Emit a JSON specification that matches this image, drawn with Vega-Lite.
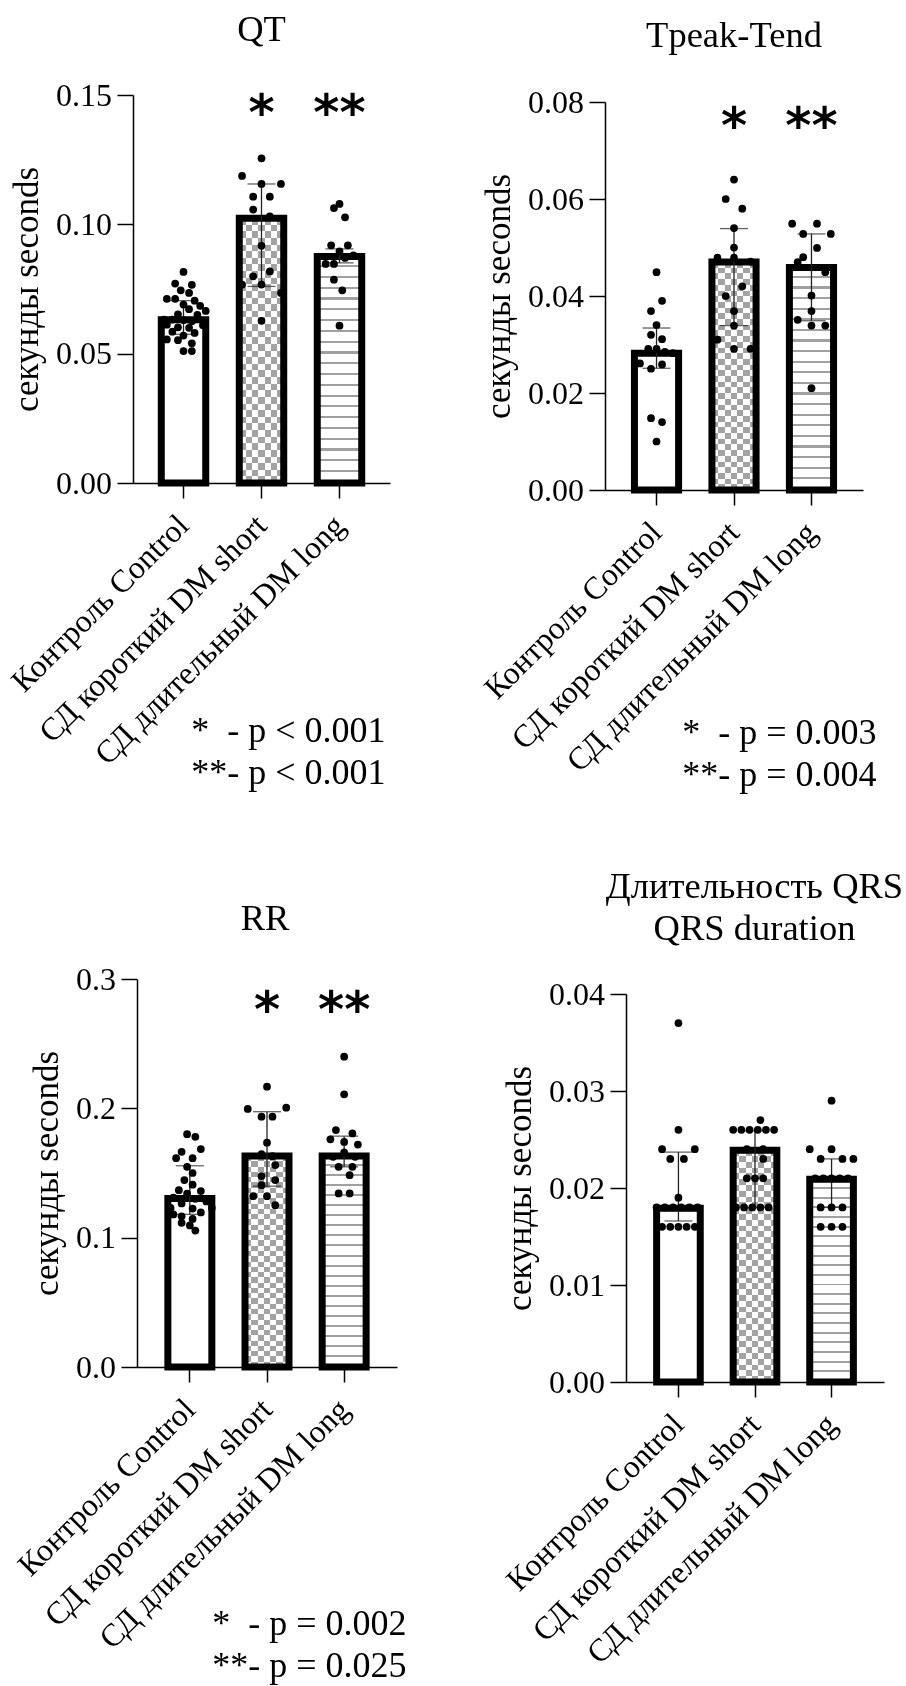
{
"$schema": "https://vega.github.io/schema/vega-lite/v6.json",
"background": "white",
"autosize": {"type": "none"},
"padding": {"left": 133, "top": 95, "right": 773, "bottom": 1591},
"columns": 2,
"bounds": "flush",
"align": "each",
"spacing": {"row": 489, "column": 208},
"datasets": {
"qt_b": [
{"g": "Контроль Control", "v": 0.0631, "lo": 0.0575, "hi": 0.0705},
{"g": "СД короткий DM short", "v": 0.1024, "lo": 0.076, "hi": 0.1156},
{"g": "СД длительный DM long", "v": 0.0876, "lo": 0.0851, "hi": 0.0905}
],
"qt_s": [
{"g": "СД короткий DM short", "t": "*", "v": 0.1366},
{"g": "СД длительный DM long", "t": "**", "v": 0.1366}
],
"qt_p": [
{"g": "Контроль Control", "v": 0.0816, "s": 0},
{"g": "Контроль Control", "v": 0.0771, "s": -3},
{"g": "Контроль Control", "v": 0.0766, "s": 3},
{"g": "Контроль Control", "v": 0.0745, "s": -1},
{"g": "Контроль Control", "v": 0.0735, "s": 2},
{"g": "Контроль Control", "v": 0.0712, "s": -6},
{"g": "Контроль Control", "v": 0.0712, "s": -3},
{"g": "Контроль Control", "v": 0.0705, "s": 4},
{"g": "Контроль Control", "v": 0.0690, "s": 0},
{"g": "Контроль Control", "v": 0.0685, "s": 6},
{"g": "Контроль Control", "v": 0.0672, "s": 2},
{"g": "Контроль Control", "v": 0.0665, "s": 8},
{"g": "Контроль Control", "v": 0.0652, "s": -2},
{"g": "Контроль Control", "v": 0.0650, "s": 5},
{"g": "Контроль Control", "v": 0.0632, "s": -7},
{"g": "Контроль Control", "v": 0.0632, "s": -4},
{"g": "Контроль Control", "v": 0.0630, "s": 0},
{"g": "Контроль Control", "v": 0.0625, "s": 3},
{"g": "Контроль Control", "v": 0.0612, "s": -6},
{"g": "Контроль Control", "v": 0.0610, "s": 7},
{"g": "Контроль Control", "v": 0.0602, "s": -2},
{"g": "Контроль Control", "v": 0.0600, "s": 2},
{"g": "Контроль Control", "v": 0.0585, "s": -4},
{"g": "Контроль Control", "v": 0.0580, "s": 4},
{"g": "Контроль Control", "v": 0.0570, "s": 0},
{"g": "Контроль Control", "v": 0.0555, "s": -6},
{"g": "Контроль Control", "v": 0.0552, "s": -2},
{"g": "Контроль Control", "v": 0.0540, "s": 3},
{"g": "Контроль Control", "v": 0.0510, "s": 0},
{"g": "Контроль Control", "v": 0.0510, "s": 3},
{"g": "СД короткий DM short", "v": 0.1255, "s": 0},
{"g": "СД короткий DM short", "v": 0.1187, "s": -7},
{"g": "СД короткий DM short", "v": 0.1156, "s": 0},
{"g": "СД короткий DM short", "v": 0.1156, "s": 7},
{"g": "СД короткий DM short", "v": 0.1107, "s": -3},
{"g": "СД короткий DM short", "v": 0.1107, "s": 3},
{"g": "СД короткий DM short", "v": 0.1057, "s": -3},
{"g": "СД короткий DM short", "v": 0.1031, "s": 3},
{"g": "СД короткий DM short", "v": 0.0917, "s": 0},
{"g": "СД короткий DM short", "v": 0.0818, "s": 3},
{"g": "СД короткий DM short", "v": 0.0799, "s": -3},
{"g": "СД короткий DM short", "v": 0.0767, "s": -7},
{"g": "СД короткий DM short", "v": 0.0767, "s": 0},
{"g": "СД короткий DM short", "v": 0.0735, "s": 7},
{"g": "СД короткий DM short", "v": 0.0627, "s": 0},
{"g": "СД длительный DM long", "v": 0.1079, "s": 0},
{"g": "СД длительный DM long", "v": 0.1063, "s": -2},
{"g": "СД длительный DM long", "v": 0.1027, "s": 2},
{"g": "СД длительный DM long", "v": 0.0919, "s": -3},
{"g": "СД длительный DM long", "v": 0.0919, "s": 3},
{"g": "СД длительный DM long", "v": 0.0895, "s": 0},
{"g": "СД длительный DM long", "v": 0.0880, "s": 5},
{"g": "СД длительный DM long", "v": 0.0870, "s": 2},
{"g": "СД длительный DM long", "v": 0.0847, "s": -5},
{"g": "СД длительный DM long", "v": 0.0847, "s": -2},
{"g": "СД длительный DM long", "v": 0.0786, "s": -2},
{"g": "СД длительный DM long", "v": 0.0745, "s": 1},
{"g": "СД длительный DM long", "v": 0.0608, "s": 0}
],
"tp_b": [
{"g": "Контроль Control", "v": 0.0282, "lo": 0.0251, "hi": 0.0334},
{"g": "СД короткий DM short", "v": 0.0470, "lo": 0.0339, "hi": 0.0539},
{"g": "СД длительный DM long", "v": 0.0459, "lo": 0.0349, "hi": 0.0528}
],
"tp_s": [
{"g": "СД короткий DM short", "t": "*", "v": 0.0716},
{"g": "СД длительный DM long", "t": "**", "v": 0.0716}
],
"tp_p": [
{"g": "Контроль Control", "v": 0.0449, "s": 0},
{"g": "Контроль Control", "v": 0.0390, "s": 2},
{"g": "Контроль Control", "v": 0.0369, "s": -2},
{"g": "Контроль Control", "v": 0.0340, "s": 0},
{"g": "Контроль Control", "v": 0.0320, "s": -2},
{"g": "Контроль Control", "v": 0.0311, "s": 2},
{"g": "Контроль Control", "v": 0.0291, "s": -3},
{"g": "Контроль Control", "v": 0.0291, "s": 0},
{"g": "Контроль Control", "v": 0.0285, "s": 3},
{"g": "Контроль Control", "v": 0.0282, "s": 6},
{"g": "Контроль Control", "v": 0.0261, "s": -6},
{"g": "Контроль Control", "v": 0.0259, "s": 2},
{"g": "Контроль Control", "v": 0.0250, "s": -2},
{"g": "Контроль Control", "v": 0.0148, "s": -2},
{"g": "Контроль Control", "v": 0.0140, "s": 2},
{"g": "Контроль Control", "v": 0.0100, "s": 0},
{"g": "СД короткий DM short", "v": 0.0640, "s": 0},
{"g": "СД короткий DM short", "v": 0.0600, "s": -3},
{"g": "СД короткий DM short", "v": 0.0580, "s": 3},
{"g": "СД короткий DM short", "v": 0.0540, "s": 0},
{"g": "СД короткий DM short", "v": 0.0500, "s": 0},
{"g": "СД короткий DM short", "v": 0.0479, "s": -6},
{"g": "СД короткий DM short", "v": 0.0479, "s": 0},
{"g": "СД короткий DM short", "v": 0.0471, "s": 6},
{"g": "СД короткий DM short", "v": 0.0420, "s": 3},
{"g": "СД короткий DM short", "v": 0.0400, "s": -3},
{"g": "СД короткий DM short", "v": 0.0369, "s": 0},
{"g": "СД короткий DM short", "v": 0.0339, "s": 0},
{"g": "СД короткий DM short", "v": 0.0310, "s": -6},
{"g": "СД короткий DM short", "v": 0.0291, "s": 0},
{"g": "СД короткий DM short", "v": 0.0291, "s": 6},
{"g": "СД длительный DM long", "v": 0.0549, "s": -7},
{"g": "СД длительный DM long", "v": 0.0549, "s": 2},
{"g": "СД длительный DM long", "v": 0.0528, "s": -3},
{"g": "СД длительный DM long", "v": 0.0528, "s": 7},
{"g": "СД длительный DM long", "v": 0.0499, "s": 2},
{"g": "СД длительный DM long", "v": 0.0480, "s": -3},
{"g": "СД длительный DM long", "v": 0.0470, "s": -5},
{"g": "СД длительный DM long", "v": 0.0449, "s": 5},
{"g": "СД длительный DM long", "v": 0.0401, "s": 0},
{"g": "СД длительный DM long", "v": 0.0369, "s": 0},
{"g": "СД длительный DM long", "v": 0.0351, "s": -5},
{"g": "СД длительный DM long", "v": 0.0339, "s": 0},
{"g": "СД длительный DM long", "v": 0.0339, "s": 5},
{"g": "СД длительный DM long", "v": 0.0210, "s": 0}
],
"rr_b": [
{"g": "Контроль Control", "v": 0.1303, "lo": 0.118, "hi": 0.1556},
{"g": "СД короткий DM short", "v": 0.1631, "lo": 0.1398, "hi": 0.1974},
{"g": "СД длительный DM long", "v": 0.1631, "lo": 0.1548, "hi": 0.1785}
],
"rr_s": [
{"g": "СД короткий DM short", "t": "*", "v": 0.2629},
{"g": "СД длительный DM long", "t": "**", "v": 0.2629}
],
"rr_p": [
{"g": "Контроль Control", "v": 0.180, "s": -1},
{"g": "Контроль Control", "v": 0.178, "s": 2},
{"g": "Контроль Control", "v": 0.1685, "s": 4},
{"g": "Контроль Control", "v": 0.1664, "s": -3},
{"g": "Контроль Control", "v": 0.1615, "s": -5},
{"g": "Контроль Control", "v": 0.1615, "s": 1},
{"g": "Контроль Control", "v": 0.1548, "s": -1},
{"g": "Контроль Control", "v": 0.150, "s": 1},
{"g": "Контроль Control", "v": 0.1445, "s": -2},
{"g": "Контроль Control", "v": 0.141, "s": 1},
{"g": "Контроль Control", "v": 0.1367, "s": -4},
{"g": "Контроль Control", "v": 0.136, "s": 4},
{"g": "Контроль Control", "v": 0.134, "s": -1},
{"g": "Контроль Control", "v": 0.131, "s": -6},
{"g": "Контроль Control", "v": 0.130, "s": 2},
{"g": "Контроль Control", "v": 0.128, "s": 6},
{"g": "Контроль Control", "v": 0.1265, "s": -3},
{"g": "Контроль Control", "v": 0.123, "s": 8},
{"g": "Контроль Control", "v": 0.123, "s": -7},
{"g": "Контроль Control", "v": 0.1225, "s": 1},
{"g": "Контроль Control", "v": 0.1195, "s": 4},
{"g": "Контроль Control", "v": 0.118, "s": -6},
{"g": "Контроль Control", "v": 0.1165, "s": -3},
{"g": "Контроль Control", "v": 0.1145, "s": 1},
{"g": "Контроль Control", "v": 0.1115, "s": -3},
{"g": "Контроль Control", "v": 0.1095, "s": 0},
{"g": "Контроль Control", "v": 0.1055, "s": 2},
{"g": "СД короткий DM short", "v": 0.2167, "s": 0},
{"g": "СД короткий DM short", "v": 0.1995, "s": -7},
{"g": "СД короткий DM short", "v": 0.2005, "s": 7},
{"g": "СД короткий DM short", "v": 0.1935, "s": -2},
{"g": "СД короткий DM short", "v": 0.1935, "s": 2},
{"g": "СД короткий DM short", "v": 0.1734, "s": 0},
{"g": "СД короткий DM short", "v": 0.1646, "s": -2},
{"g": "СД короткий DM short", "v": 0.1630, "s": 2},
{"g": "СД короткий DM short", "v": 0.1561, "s": 3},
{"g": "СД короткий DM short", "v": 0.1476, "s": -2},
{"g": "СД короткий DM short", "v": 0.1445, "s": 3},
{"g": "СД короткий DM short", "v": 0.1406, "s": -2},
{"g": "СД короткий DM short", "v": 0.1321, "s": -5},
{"g": "СД короткий DM short", "v": 0.1321, "s": 0},
{"g": "СД короткий DM short", "v": 0.1251, "s": 3},
{"g": "СД длительный DM long", "v": 0.2399, "s": 0},
{"g": "СД длительный DM long", "v": 0.2108, "s": 0},
{"g": "СД длительный DM long", "v": 0.1832, "s": -3},
{"g": "СД длительный DM long", "v": 0.1806, "s": 3},
{"g": "СД длительный DM long", "v": 0.1760, "s": -5},
{"g": "СД длительный DM long", "v": 0.1740, "s": 0},
{"g": "СД длительный DM long", "v": 0.1720, "s": 5},
{"g": "СД длительный DM long", "v": 0.1660, "s": 0},
{"g": "СД длительный DM long", "v": 0.1625, "s": -4},
{"g": "СД длительный DM long", "v": 0.1625, "s": 4},
{"g": "СД длительный DM long", "v": 0.1548, "s": -2},
{"g": "СД длительный DM long", "v": 0.1548, "s": 3},
{"g": "СД длительный DM long", "v": 0.1483, "s": 2},
{"g": "СД длительный DM long", "v": 0.1342, "s": -2},
{"g": "СД длительный DM long", "v": 0.1342, "s": 2}
],
"qrs_b": [
{"g": "Контроль Control", "v": 0.0179, "lo": 0.0166, "hi": 0.0237},
{"g": "СД короткий DM short", "v": 0.0239, "lo": 0.018, "hi": 0.0259},
{"g": "СД длительный DM long", "v": 0.0209, "lo": 0.018, "hi": 0.0230}
],
"qrs_p": [
{"g": "Контроль Control", "v": 0.037, "s": 0},
{"g": "Контроль Control", "v": 0.026, "s": 0},
{"g": "Контроль Control", "v": 0.024, "s": -6},
{"g": "Контроль Control", "v": 0.024, "s": 6},
{"g": "Контроль Control", "v": 0.023, "s": -3},
{"g": "Контроль Control", "v": 0.023, "s": 2},
{"g": "Контроль Control", "v": 0.019, "s": 0},
{"g": "Контроль Control", "v": 0.018, "s": -8},
{"g": "Контроль Control", "v": 0.018, "s": -5},
{"g": "Контроль Control", "v": 0.018, "s": -2},
{"g": "Контроль Control", "v": 0.018, "s": 1},
{"g": "Контроль Control", "v": 0.018, "s": 4},
{"g": "Контроль Control", "v": 0.018, "s": 7},
{"g": "Контроль Control", "v": 0.016, "s": -6},
{"g": "Контроль Control", "v": 0.016, "s": -3},
{"g": "Контроль Control", "v": 0.016, "s": 0},
{"g": "Контроль Control", "v": 0.016, "s": 3},
{"g": "Контроль Control", "v": 0.016, "s": 6},
{"g": "СД короткий DM short", "v": 0.027, "s": 2},
{"g": "СД короткий DM short", "v": 0.026, "s": -8},
{"g": "СД короткий DM short", "v": 0.026, "s": -5},
{"g": "СД короткий DM short", "v": 0.026, "s": -2},
{"g": "СД короткий DM short", "v": 0.026, "s": 1},
{"g": "СД короткий DM short", "v": 0.026, "s": 4},
{"g": "СД короткий DM short", "v": 0.026, "s": 7},
{"g": "СД короткий DM short", "v": 0.024, "s": -3},
{"g": "СД короткий DM short", "v": 0.024, "s": 3},
{"g": "СД короткий DM short", "v": 0.023, "s": 3},
{"g": "СД короткий DM short", "v": 0.021, "s": -3},
{"g": "СД короткий DM short", "v": 0.021, "s": 0},
{"g": "СД короткий DM short", "v": 0.021, "s": 3},
{"g": "СД короткий DM short", "v": 0.018, "s": -7},
{"g": "СД короткий DM short", "v": 0.018, "s": -4},
{"g": "СД короткий DM short", "v": 0.018, "s": -1},
{"g": "СД короткий DM short", "v": 0.018, "s": 2},
{"g": "СД короткий DM short", "v": 0.018, "s": 5},
{"g": "СД длительный DM long", "v": 0.029, "s": 0},
{"g": "СД длительный DM long", "v": 0.024, "s": -8},
{"g": "СД длительный DM long", "v": 0.024, "s": 0},
{"g": "СД длительный DM long", "v": 0.023, "s": -4},
{"g": "СД длительный DM long", "v": 0.023, "s": 4},
{"g": "СД длительный DM long", "v": 0.023, "s": 8},
{"g": "СД длительный DM long", "v": 0.021, "s": -6},
{"g": "СД длительный DM long", "v": 0.021, "s": -3},
{"g": "СД длительный DM long", "v": 0.021, "s": 0},
{"g": "СД длительный DM long", "v": 0.021, "s": 3},
{"g": "СД длительный DM long", "v": 0.021, "s": 6},
{"g": "СД длительный DM long", "v": 0.018, "s": -4},
{"g": "СД длительный DM long", "v": 0.018, "s": 0},
{"g": "СД длительный DM long", "v": 0.018, "s": 4},
{"g": "СД длительный DM long", "v": 0.016, "s": -4},
{"g": "СД длительный DM long", "v": 0.016, "s": 0},
{"g": "СД длительный DM long", "v": 0.016, "s": 4}
]
},
"config": {
"font": "Liberation Serif",
"view": {"stroke": null},
"axis": {"grid": false, "domainColor": "black", "domainWidth": 1.5, "tickColor": "black", "tickWidth": 1.5, "labelFont": "Liberation Serif", "labelFontSize": 32, "labelColor": "black", "titleFont": "Liberation Serif", "titleFontSize": 35, "titleFontWeight": "normal", "titleColor": "black", "labelOverlap": false, "labelFlush": false, "labelLimit": 500},
"axisX": {"tickSize": 15, "labelAngle": -45, "labelAlign": "right", "labelBaseline": "middle", "labelPadding": 22, "titleFontSize": 36, "titleAlign": "right", "titleAnchor": "end", "titleBaseline": "alphabetic", "titleLineHeight": 42},
"axisY": {"tickSize": 16, "labelPadding": 5.5, "titlePadding": 11},
"title": {"font": "Liberation Serif", "fontSize": 36.5, "fontWeight": "normal", "color": "black", "anchor": "middle", "frame": "group", "baseline": "alphabetic"}
},
"concat": [
{
"width": 257, "height": 388,
"title": {"text": "QT", "offset": 31},
"resolve": {"scale": {"xOffset": "independent"}},
"encoding": {
"x": {"field": "g", "type": "nominal", "scale": {"domain": ["Контроль Control", "СД короткий DM short", "СД длительный DM long"], "paddingInner": 0.43, "paddingOuter": 0.3625}, "axis": {"title": ["*\u00a0\u00a0- p < 0.001", "**- p < 0.001"], "titleX": 252, "titleY": 258}},
"y": {"field": "v", "type": "quantitative", "scale": {"domain": [0, 0.15], "nice": false}, "axis": {"title": "секунды seconds", "values": [0, 0.05, 0.1, 0.15], "format": ".2f"}}
},
"layer": [
{"data": {"name": "qt_b"}, "transform": [{"filter": {"field": "g", "equal": "СД короткий DM short"}}], "mark": {"type": "bar", "width": {"band": 1}, "fill": {"gradient":"linear","x1":0,"y1":0,"x2":1,"y2":0,"stops":[{"offset":0,"color":"#000"},{"offset":0.1429,"color":"#000"},{"offset":0.1429,"color":"#fff"},{"offset":0.2857,"color":"#fff"},{"offset":0.2857,"color":"#000"},{"offset":0.4286,"color":"#000"},{"offset":0.4286,"color":"#fff"},{"offset":0.5714,"color":"#fff"},{"offset":0.5714,"color":"#000"},{"offset":0.7143,"color":"#000"},{"offset":0.7143,"color":"#fff"},{"offset":0.8571,"color":"#fff"},{"offset":0.8571,"color":"#000"},{"offset":1,"color":"#000"}]}}},
{"data": {"name": "qt_b"}, "transform": [{"filter": {"field": "g", "equal": "СД короткий DM short"}}], "mark": {"type": "bar", "width": {"band": 1}, "blend": "difference", "fill": {"gradient":"linear","x1":0,"y1":0,"x2":0,"y2":1,"stops":[{"offset":0,"color":"#000"},{"offset":0.025,"color":"#000"},{"offset":0.025,"color":"#fff"},{"offset":0.05,"color":"#fff"},{"offset":0.05,"color":"#000"},{"offset":0.075,"color":"#000"},{"offset":0.075,"color":"#fff"},{"offset":0.1,"color":"#fff"},{"offset":0.1,"color":"#000"},{"offset":0.125,"color":"#000"},{"offset":0.125,"color":"#fff"},{"offset":0.15,"color":"#fff"},{"offset":0.15,"color":"#000"},{"offset":0.175,"color":"#000"},{"offset":0.175,"color":"#fff"},{"offset":0.2,"color":"#fff"},{"offset":0.2,"color":"#000"},{"offset":0.225,"color":"#000"},{"offset":0.225,"color":"#fff"},{"offset":0.25,"color":"#fff"},{"offset":0.25,"color":"#000"},{"offset":0.275,"color":"#000"},{"offset":0.275,"color":"#fff"},{"offset":0.3,"color":"#fff"},{"offset":0.3,"color":"#000"},{"offset":0.325,"color":"#000"},{"offset":0.325,"color":"#fff"},{"offset":0.35,"color":"#fff"},{"offset":0.35,"color":"#000"},{"offset":0.375,"color":"#000"},{"offset":0.375,"color":"#fff"},{"offset":0.4,"color":"#fff"},{"offset":0.4,"color":"#000"},{"offset":0.425,"color":"#000"},{"offset":0.425,"color":"#fff"},{"offset":0.45,"color":"#fff"},{"offset":0.45,"color":"#000"},{"offset":0.475,"color":"#000"},{"offset":0.475,"color":"#fff"},{"offset":0.5,"color":"#fff"},{"offset":0.5,"color":"#000"},{"offset":0.525,"color":"#000"},{"offset":0.525,"color":"#fff"},{"offset":0.55,"color":"#fff"},{"offset":0.55,"color":"#000"},{"offset":0.575,"color":"#000"},{"offset":0.575,"color":"#fff"},{"offset":0.6,"color":"#fff"},{"offset":0.6,"color":"#000"},{"offset":0.625,"color":"#000"},{"offset":0.625,"color":"#fff"},{"offset":0.65,"color":"#fff"},{"offset":0.65,"color":"#000"},{"offset":0.675,"color":"#000"},{"offset":0.675,"color":"#fff"},{"offset":0.7,"color":"#fff"},{"offset":0.7,"color":"#000"},{"offset":0.725,"color":"#000"},{"offset":0.725,"color":"#fff"},{"offset":0.75,"color":"#fff"},{"offset":0.75,"color":"#000"},{"offset":0.775,"color":"#000"},{"offset":0.775,"color":"#fff"},{"offset":0.8,"color":"#fff"},{"offset":0.8,"color":"#000"},{"offset":0.825,"color":"#000"},{"offset":0.825,"color":"#fff"},{"offset":0.85,"color":"#fff"},{"offset":0.85,"color":"#000"},{"offset":0.875,"color":"#000"},{"offset":0.875,"color":"#fff"},{"offset":0.9,"color":"#fff"},{"offset":0.9,"color":"#000"},{"offset":0.925,"color":"#000"},{"offset":0.925,"color":"#fff"},{"offset":0.95,"color":"#fff"},{"offset":0.95,"color":"#000"},{"offset":0.975,"color":"#000"},{"offset":0.975,"color":"#fff"},{"offset":1,"color":"#fff"}]}}},
{"data": {"name": "qt_b"}, "transform": [{"filter": {"field": "g", "equal": "СД короткий DM short"}}], "mark": {"type": "bar", "width": {"band": 1}, "fill": "#a3a3a3", "blend": "lighten"}},
{"data": {"name": "qt_b"}, "transform": [{"filter": {"field": "g", "equal": "СД длительный DM long"}}], "mark": {"type": "bar", "width": {"band": 1}, "fill": {"gradient":"linear","x1":0,"y1":0,"x2":0,"y2":1,"stops":[{"offset":0,"color":"#fff"},{"offset":0.0381,"color":"#fff"},{"offset":0.0381,"color":"#a0a0a0"},{"offset":0.0476,"color":"#a0a0a0"},{"offset":0.0476,"color":"#fff"},{"offset":0.0857,"color":"#fff"},{"offset":0.0857,"color":"#a0a0a0"},{"offset":0.0952,"color":"#a0a0a0"},{"offset":0.0952,"color":"#fff"},{"offset":0.1333,"color":"#fff"},{"offset":0.1333,"color":"#a0a0a0"},{"offset":0.1429,"color":"#a0a0a0"},{"offset":0.1429,"color":"#fff"},{"offset":0.181,"color":"#fff"},{"offset":0.181,"color":"#a0a0a0"},{"offset":0.1905,"color":"#a0a0a0"},{"offset":0.1905,"color":"#fff"},{"offset":0.2286,"color":"#fff"},{"offset":0.2286,"color":"#a0a0a0"},{"offset":0.2381,"color":"#a0a0a0"},{"offset":0.2381,"color":"#fff"},{"offset":0.2762,"color":"#fff"},{"offset":0.2762,"color":"#a0a0a0"},{"offset":0.2857,"color":"#a0a0a0"},{"offset":0.2857,"color":"#fff"},{"offset":0.3238,"color":"#fff"},{"offset":0.3238,"color":"#a0a0a0"},{"offset":0.3333,"color":"#a0a0a0"},{"offset":0.3333,"color":"#fff"},{"offset":0.3714,"color":"#fff"},{"offset":0.3714,"color":"#a0a0a0"},{"offset":0.381,"color":"#a0a0a0"},{"offset":0.381,"color":"#fff"},{"offset":0.419,"color":"#fff"},{"offset":0.419,"color":"#a0a0a0"},{"offset":0.4286,"color":"#a0a0a0"},{"offset":0.4286,"color":"#fff"},{"offset":0.4667,"color":"#fff"},{"offset":0.4667,"color":"#a0a0a0"},{"offset":0.4762,"color":"#a0a0a0"},{"offset":0.4762,"color":"#fff"},{"offset":0.5143,"color":"#fff"},{"offset":0.5143,"color":"#a0a0a0"},{"offset":0.5238,"color":"#a0a0a0"},{"offset":0.5238,"color":"#fff"},{"offset":0.5619,"color":"#fff"},{"offset":0.5619,"color":"#a0a0a0"},{"offset":0.5714,"color":"#a0a0a0"},{"offset":0.5714,"color":"#fff"},{"offset":0.6095,"color":"#fff"},{"offset":0.6095,"color":"#a0a0a0"},{"offset":0.619,"color":"#a0a0a0"},{"offset":0.619,"color":"#fff"},{"offset":0.6571,"color":"#fff"},{"offset":0.6571,"color":"#a0a0a0"},{"offset":0.6667,"color":"#a0a0a0"},{"offset":0.6667,"color":"#fff"},{"offset":0.7048,"color":"#fff"},{"offset":0.7048,"color":"#a0a0a0"},{"offset":0.7143,"color":"#a0a0a0"},{"offset":0.7143,"color":"#fff"},{"offset":0.7524,"color":"#fff"},{"offset":0.7524,"color":"#a0a0a0"},{"offset":0.7619,"color":"#a0a0a0"},{"offset":0.7619,"color":"#fff"},{"offset":0.8,"color":"#fff"},{"offset":0.8,"color":"#a0a0a0"},{"offset":0.8095,"color":"#a0a0a0"},{"offset":0.8095,"color":"#fff"},{"offset":0.8476,"color":"#fff"},{"offset":0.8476,"color":"#a0a0a0"},{"offset":0.8571,"color":"#a0a0a0"},{"offset":0.8571,"color":"#fff"},{"offset":0.8952,"color":"#fff"},{"offset":0.8952,"color":"#a0a0a0"},{"offset":0.9048,"color":"#a0a0a0"},{"offset":0.9048,"color":"#fff"},{"offset":0.9429,"color":"#fff"},{"offset":0.9429,"color":"#a0a0a0"},{"offset":0.9524,"color":"#a0a0a0"},{"offset":0.9524,"color":"#fff"},{"offset":0.9905,"color":"#fff"},{"offset":0.9905,"color":"#a0a0a0"},{"offset":1,"color":"#a0a0a0"}]}}},
{"data": {"name": "qt_b"}, "mark": {"type": "bar", "width": {"band": 1}, "filled": false, "stroke": "black", "strokeWidth": 7, "strokeJoin": "miter", "opacity": 1}},
{"data": {"name": "qt_b"}, "mark": {"type": "rule", "color": "#222", "strokeWidth": 1.3}, "encoding": {"y": {"field": "lo", "type": "quantitative"}, "y2": {"field": "hi"}}},
{"data": {"name": "qt_b"}, "mark": {"type": "tick", "color": "#222", "thickness": 1.3, "size": 28}, "encoding": {"y": {"field": "lo", "type": "quantitative"}}},
{"data": {"name": "qt_b"}, "mark": {"type": "tick", "color": "#222", "thickness": 1.3, "size": 28}, "encoding": {"y": {"field": "hi", "type": "quantitative"}}},
{"data": {"name": "qt_p"}, "mark": {"type": "circle", "size": 60, "color": "black", "opacity": 1}, "encoding": {"xOffset": {"field": "s", "type": "ordinal", "scale": {"domain": [-8,-7,-6,-5,-4,-3,-2,-1,0,1,2,3,4,5,6,7,8], "paddingInner": 0, "paddingOuter": 0}}}},
{"data": {"name": "qt_s"}, "mark": {"type": "text", "font": "DejaVu Sans", "fontWeight": "bold", "fontSize": 50, "baseline": "alphabetic", "color": "black"}, "encoding": {"text": {"field": "t"}}}
]
},
{
"width": 258, "height": 395,
"title": {"text": "Tpeak-Tend", "offset": 32},
"resolve": {"scale": {"xOffset": "independent"}},
"encoding": {
"x": {"field": "g", "type": "nominal", "scale": {"domain": ["Контроль Control", "СД короткий DM short", "СД длительный DM long"], "paddingInner": 0.43, "paddingOuter": 0.38}, "axis": {"title": ["*\u00a0\u00a0- p = 0.003", "**- p = 0.004"], "titleX": 271, "titleY": 253}},
"y": {"field": "v", "type": "quantitative", "scale": {"domain": [0, 0.08], "nice": false, "range": [395, 7]}, "axis": {"title": "секунды seconds", "values": [0, 0.02, 0.04, 0.06, 0.08], "format": ".2f"}}
},
"layer": [
{"data": {"name": "tp_b"}, "transform": [{"filter": {"field": "g", "equal": "СД короткий DM short"}}], "mark": {"type": "bar", "width": {"band": 1}, "fill": {"gradient":"linear","x1":0,"y1":0,"x2":1,"y2":0,"stops":[{"offset":0,"color":"#000"},{"offset":0.1429,"color":"#000"},{"offset":0.1429,"color":"#fff"},{"offset":0.2857,"color":"#fff"},{"offset":0.2857,"color":"#000"},{"offset":0.4286,"color":"#000"},{"offset":0.4286,"color":"#fff"},{"offset":0.5714,"color":"#fff"},{"offset":0.5714,"color":"#000"},{"offset":0.7143,"color":"#000"},{"offset":0.7143,"color":"#fff"},{"offset":0.8571,"color":"#fff"},{"offset":0.8571,"color":"#000"},{"offset":1,"color":"#000"}]}}},
{"data": {"name": "tp_b"}, "transform": [{"filter": {"field": "g", "equal": "СД короткий DM short"}}], "mark": {"type": "bar", "width": {"band": 1}, "blend": "difference", "fill": {"gradient":"linear","x1":0,"y1":0,"x2":0,"y2":1,"stops":[{"offset":0,"color":"#000"},{"offset":0.025,"color":"#000"},{"offset":0.025,"color":"#fff"},{"offset":0.05,"color":"#fff"},{"offset":0.05,"color":"#000"},{"offset":0.075,"color":"#000"},{"offset":0.075,"color":"#fff"},{"offset":0.1,"color":"#fff"},{"offset":0.1,"color":"#000"},{"offset":0.125,"color":"#000"},{"offset":0.125,"color":"#fff"},{"offset":0.15,"color":"#fff"},{"offset":0.15,"color":"#000"},{"offset":0.175,"color":"#000"},{"offset":0.175,"color":"#fff"},{"offset":0.2,"color":"#fff"},{"offset":0.2,"color":"#000"},{"offset":0.225,"color":"#000"},{"offset":0.225,"color":"#fff"},{"offset":0.25,"color":"#fff"},{"offset":0.25,"color":"#000"},{"offset":0.275,"color":"#000"},{"offset":0.275,"color":"#fff"},{"offset":0.3,"color":"#fff"},{"offset":0.3,"color":"#000"},{"offset":0.325,"color":"#000"},{"offset":0.325,"color":"#fff"},{"offset":0.35,"color":"#fff"},{"offset":0.35,"color":"#000"},{"offset":0.375,"color":"#000"},{"offset":0.375,"color":"#fff"},{"offset":0.4,"color":"#fff"},{"offset":0.4,"color":"#000"},{"offset":0.425,"color":"#000"},{"offset":0.425,"color":"#fff"},{"offset":0.45,"color":"#fff"},{"offset":0.45,"color":"#000"},{"offset":0.475,"color":"#000"},{"offset":0.475,"color":"#fff"},{"offset":0.5,"color":"#fff"},{"offset":0.5,"color":"#000"},{"offset":0.525,"color":"#000"},{"offset":0.525,"color":"#fff"},{"offset":0.55,"color":"#fff"},{"offset":0.55,"color":"#000"},{"offset":0.575,"color":"#000"},{"offset":0.575,"color":"#fff"},{"offset":0.6,"color":"#fff"},{"offset":0.6,"color":"#000"},{"offset":0.625,"color":"#000"},{"offset":0.625,"color":"#fff"},{"offset":0.65,"color":"#fff"},{"offset":0.65,"color":"#000"},{"offset":0.675,"color":"#000"},{"offset":0.675,"color":"#fff"},{"offset":0.7,"color":"#fff"},{"offset":0.7,"color":"#000"},{"offset":0.725,"color":"#000"},{"offset":0.725,"color":"#fff"},{"offset":0.75,"color":"#fff"},{"offset":0.75,"color":"#000"},{"offset":0.775,"color":"#000"},{"offset":0.775,"color":"#fff"},{"offset":0.8,"color":"#fff"},{"offset":0.8,"color":"#000"},{"offset":0.825,"color":"#000"},{"offset":0.825,"color":"#fff"},{"offset":0.85,"color":"#fff"},{"offset":0.85,"color":"#000"},{"offset":0.875,"color":"#000"},{"offset":0.875,"color":"#fff"},{"offset":0.9,"color":"#fff"},{"offset":0.9,"color":"#000"},{"offset":0.925,"color":"#000"},{"offset":0.925,"color":"#fff"},{"offset":0.95,"color":"#fff"},{"offset":0.95,"color":"#000"},{"offset":0.975,"color":"#000"},{"offset":0.975,"color":"#fff"},{"offset":1,"color":"#fff"}]}}},
{"data": {"name": "tp_b"}, "transform": [{"filter": {"field": "g", "equal": "СД короткий DM short"}}], "mark": {"type": "bar", "width": {"band": 1}, "fill": "#a3a3a3", "blend": "lighten"}},
{"data": {"name": "tp_b"}, "transform": [{"filter": {"field": "g", "equal": "СД длительный DM long"}}], "mark": {"type": "bar", "width": {"band": 1}, "fill": {"gradient":"linear","x1":0,"y1":0,"x2":0,"y2":1,"stops":[{"offset":0,"color":"#fff"},{"offset":0.0381,"color":"#fff"},{"offset":0.0381,"color":"#a0a0a0"},{"offset":0.0476,"color":"#a0a0a0"},{"offset":0.0476,"color":"#fff"},{"offset":0.0857,"color":"#fff"},{"offset":0.0857,"color":"#a0a0a0"},{"offset":0.0952,"color":"#a0a0a0"},{"offset":0.0952,"color":"#fff"},{"offset":0.1333,"color":"#fff"},{"offset":0.1333,"color":"#a0a0a0"},{"offset":0.1429,"color":"#a0a0a0"},{"offset":0.1429,"color":"#fff"},{"offset":0.181,"color":"#fff"},{"offset":0.181,"color":"#a0a0a0"},{"offset":0.1905,"color":"#a0a0a0"},{"offset":0.1905,"color":"#fff"},{"offset":0.2286,"color":"#fff"},{"offset":0.2286,"color":"#a0a0a0"},{"offset":0.2381,"color":"#a0a0a0"},{"offset":0.2381,"color":"#fff"},{"offset":0.2762,"color":"#fff"},{"offset":0.2762,"color":"#a0a0a0"},{"offset":0.2857,"color":"#a0a0a0"},{"offset":0.2857,"color":"#fff"},{"offset":0.3238,"color":"#fff"},{"offset":0.3238,"color":"#a0a0a0"},{"offset":0.3333,"color":"#a0a0a0"},{"offset":0.3333,"color":"#fff"},{"offset":0.3714,"color":"#fff"},{"offset":0.3714,"color":"#a0a0a0"},{"offset":0.381,"color":"#a0a0a0"},{"offset":0.381,"color":"#fff"},{"offset":0.419,"color":"#fff"},{"offset":0.419,"color":"#a0a0a0"},{"offset":0.4286,"color":"#a0a0a0"},{"offset":0.4286,"color":"#fff"},{"offset":0.4667,"color":"#fff"},{"offset":0.4667,"color":"#a0a0a0"},{"offset":0.4762,"color":"#a0a0a0"},{"offset":0.4762,"color":"#fff"},{"offset":0.5143,"color":"#fff"},{"offset":0.5143,"color":"#a0a0a0"},{"offset":0.5238,"color":"#a0a0a0"},{"offset":0.5238,"color":"#fff"},{"offset":0.5619,"color":"#fff"},{"offset":0.5619,"color":"#a0a0a0"},{"offset":0.5714,"color":"#a0a0a0"},{"offset":0.5714,"color":"#fff"},{"offset":0.6095,"color":"#fff"},{"offset":0.6095,"color":"#a0a0a0"},{"offset":0.619,"color":"#a0a0a0"},{"offset":0.619,"color":"#fff"},{"offset":0.6571,"color":"#fff"},{"offset":0.6571,"color":"#a0a0a0"},{"offset":0.6667,"color":"#a0a0a0"},{"offset":0.6667,"color":"#fff"},{"offset":0.7048,"color":"#fff"},{"offset":0.7048,"color":"#a0a0a0"},{"offset":0.7143,"color":"#a0a0a0"},{"offset":0.7143,"color":"#fff"},{"offset":0.7524,"color":"#fff"},{"offset":0.7524,"color":"#a0a0a0"},{"offset":0.7619,"color":"#a0a0a0"},{"offset":0.7619,"color":"#fff"},{"offset":0.8,"color":"#fff"},{"offset":0.8,"color":"#a0a0a0"},{"offset":0.8095,"color":"#a0a0a0"},{"offset":0.8095,"color":"#fff"},{"offset":0.8476,"color":"#fff"},{"offset":0.8476,"color":"#a0a0a0"},{"offset":0.8571,"color":"#a0a0a0"},{"offset":0.8571,"color":"#fff"},{"offset":0.8952,"color":"#fff"},{"offset":0.8952,"color":"#a0a0a0"},{"offset":0.9048,"color":"#a0a0a0"},{"offset":0.9048,"color":"#fff"},{"offset":0.9429,"color":"#fff"},{"offset":0.9429,"color":"#a0a0a0"},{"offset":0.9524,"color":"#a0a0a0"},{"offset":0.9524,"color":"#fff"},{"offset":0.9905,"color":"#fff"},{"offset":0.9905,"color":"#a0a0a0"},{"offset":1,"color":"#a0a0a0"}]}}},
{"data": {"name": "tp_b"}, "mark": {"type": "bar", "width": {"band": 1}, "filled": false, "stroke": "black", "strokeWidth": 7, "strokeJoin": "miter", "opacity": 1}},
{"data": {"name": "tp_b"}, "mark": {"type": "rule", "color": "#222", "strokeWidth": 1.3}, "encoding": {"y": {"field": "lo", "type": "quantitative"}, "y2": {"field": "hi"}}},
{"data": {"name": "tp_b"}, "mark": {"type": "tick", "color": "#222", "thickness": 1.3, "size": 28}, "encoding": {"y": {"field": "lo", "type": "quantitative"}}},
{"data": {"name": "tp_b"}, "mark": {"type": "tick", "color": "#222", "thickness": 1.3, "size": 28}, "encoding": {"y": {"field": "hi", "type": "quantitative"}}},
{"data": {"name": "tp_p"}, "mark": {"type": "circle", "size": 60, "color": "black", "opacity": 1}, "encoding": {"xOffset": {"field": "s", "type": "ordinal", "scale": {"domain": [-8,-7,-6,-5,-4,-3,-2,-1,0,1,2,3,4,5,6,7,8], "paddingInner": 0, "paddingOuter": 0}}}},
{"data": {"name": "tp_s"}, "mark": {"type": "text", "font": "DejaVu Sans", "fontWeight": "bold", "fontSize": 50, "baseline": "alphabetic", "color": "black"}, "encoding": {"text": {"field": "t"}}}
]
},
{
"width": 264, "height": 388,
"title": {"text": "RR", "offset": 25.5},
"resolve": {"scale": {"xOffset": "independent"}},
"encoding": {
"x": {"field": "g", "type": "nominal", "scale": {"domain": ["Контроль Control", "СД короткий DM short", "СД длительный DM long"], "paddingInner": 0.43, "paddingOuter": 0.40, "range": [4, 264]}, "axis": {"title": ["*\u00a0\u00a0- p = 0.002", "**- p = 0.025"], "titleX": 273, "titleY": 267}},
"y": {"field": "v", "type": "quantitative", "scale": {"domain": [0, 0.3], "nice": false}, "axis": {"title": "секунды seconds", "values": [0, 0.1, 0.2, 0.3], "format": ".1f", "offset": -4}}
},
"layer": [
{"data": {"name": "rr_b"}, "transform": [{"filter": {"field": "g", "equal": "СД короткий DM short"}}], "mark": {"type": "bar", "width": {"band": 1}, "fill": {"gradient":"linear","x1":0,"y1":0,"x2":1,"y2":0,"stops":[{"offset":0,"color":"#000"},{"offset":0.1429,"color":"#000"},{"offset":0.1429,"color":"#fff"},{"offset":0.2857,"color":"#fff"},{"offset":0.2857,"color":"#000"},{"offset":0.4286,"color":"#000"},{"offset":0.4286,"color":"#fff"},{"offset":0.5714,"color":"#fff"},{"offset":0.5714,"color":"#000"},{"offset":0.7143,"color":"#000"},{"offset":0.7143,"color":"#fff"},{"offset":0.8571,"color":"#fff"},{"offset":0.8571,"color":"#000"},{"offset":1,"color":"#000"}]}}},
{"data": {"name": "rr_b"}, "transform": [{"filter": {"field": "g", "equal": "СД короткий DM short"}}], "mark": {"type": "bar", "width": {"band": 1}, "blend": "difference", "fill": {"gradient":"linear","x1":0,"y1":0,"x2":0,"y2":1,"stops":[{"offset":0,"color":"#000"},{"offset":0.025,"color":"#000"},{"offset":0.025,"color":"#fff"},{"offset":0.05,"color":"#fff"},{"offset":0.05,"color":"#000"},{"offset":0.075,"color":"#000"},{"offset":0.075,"color":"#fff"},{"offset":0.1,"color":"#fff"},{"offset":0.1,"color":"#000"},{"offset":0.125,"color":"#000"},{"offset":0.125,"color":"#fff"},{"offset":0.15,"color":"#fff"},{"offset":0.15,"color":"#000"},{"offset":0.175,"color":"#000"},{"offset":0.175,"color":"#fff"},{"offset":0.2,"color":"#fff"},{"offset":0.2,"color":"#000"},{"offset":0.225,"color":"#000"},{"offset":0.225,"color":"#fff"},{"offset":0.25,"color":"#fff"},{"offset":0.25,"color":"#000"},{"offset":0.275,"color":"#000"},{"offset":0.275,"color":"#fff"},{"offset":0.3,"color":"#fff"},{"offset":0.3,"color":"#000"},{"offset":0.325,"color":"#000"},{"offset":0.325,"color":"#fff"},{"offset":0.35,"color":"#fff"},{"offset":0.35,"color":"#000"},{"offset":0.375,"color":"#000"},{"offset":0.375,"color":"#fff"},{"offset":0.4,"color":"#fff"},{"offset":0.4,"color":"#000"},{"offset":0.425,"color":"#000"},{"offset":0.425,"color":"#fff"},{"offset":0.45,"color":"#fff"},{"offset":0.45,"color":"#000"},{"offset":0.475,"color":"#000"},{"offset":0.475,"color":"#fff"},{"offset":0.5,"color":"#fff"},{"offset":0.5,"color":"#000"},{"offset":0.525,"color":"#000"},{"offset":0.525,"color":"#fff"},{"offset":0.55,"color":"#fff"},{"offset":0.55,"color":"#000"},{"offset":0.575,"color":"#000"},{"offset":0.575,"color":"#fff"},{"offset":0.6,"color":"#fff"},{"offset":0.6,"color":"#000"},{"offset":0.625,"color":"#000"},{"offset":0.625,"color":"#fff"},{"offset":0.65,"color":"#fff"},{"offset":0.65,"color":"#000"},{"offset":0.675,"color":"#000"},{"offset":0.675,"color":"#fff"},{"offset":0.7,"color":"#fff"},{"offset":0.7,"color":"#000"},{"offset":0.725,"color":"#000"},{"offset":0.725,"color":"#fff"},{"offset":0.75,"color":"#fff"},{"offset":0.75,"color":"#000"},{"offset":0.775,"color":"#000"},{"offset":0.775,"color":"#fff"},{"offset":0.8,"color":"#fff"},{"offset":0.8,"color":"#000"},{"offset":0.825,"color":"#000"},{"offset":0.825,"color":"#fff"},{"offset":0.85,"color":"#fff"},{"offset":0.85,"color":"#000"},{"offset":0.875,"color":"#000"},{"offset":0.875,"color":"#fff"},{"offset":0.9,"color":"#fff"},{"offset":0.9,"color":"#000"},{"offset":0.925,"color":"#000"},{"offset":0.925,"color":"#fff"},{"offset":0.95,"color":"#fff"},{"offset":0.95,"color":"#000"},{"offset":0.975,"color":"#000"},{"offset":0.975,"color":"#fff"},{"offset":1,"color":"#fff"}]}}},
{"data": {"name": "rr_b"}, "transform": [{"filter": {"field": "g", "equal": "СД короткий DM short"}}], "mark": {"type": "bar", "width": {"band": 1}, "fill": "#a3a3a3", "blend": "lighten"}},
{"data": {"name": "rr_b"}, "transform": [{"filter": {"field": "g", "equal": "СД длительный DM long"}}], "mark": {"type": "bar", "width": {"band": 1}, "fill": {"gradient":"linear","x1":0,"y1":0,"x2":0,"y2":1,"stops":[{"offset":0,"color":"#fff"},{"offset":0.0381,"color":"#fff"},{"offset":0.0381,"color":"#a0a0a0"},{"offset":0.0476,"color":"#a0a0a0"},{"offset":0.0476,"color":"#fff"},{"offset":0.0857,"color":"#fff"},{"offset":0.0857,"color":"#a0a0a0"},{"offset":0.0952,"color":"#a0a0a0"},{"offset":0.0952,"color":"#fff"},{"offset":0.1333,"color":"#fff"},{"offset":0.1333,"color":"#a0a0a0"},{"offset":0.1429,"color":"#a0a0a0"},{"offset":0.1429,"color":"#fff"},{"offset":0.181,"color":"#fff"},{"offset":0.181,"color":"#a0a0a0"},{"offset":0.1905,"color":"#a0a0a0"},{"offset":0.1905,"color":"#fff"},{"offset":0.2286,"color":"#fff"},{"offset":0.2286,"color":"#a0a0a0"},{"offset":0.2381,"color":"#a0a0a0"},{"offset":0.2381,"color":"#fff"},{"offset":0.2762,"color":"#fff"},{"offset":0.2762,"color":"#a0a0a0"},{"offset":0.2857,"color":"#a0a0a0"},{"offset":0.2857,"color":"#fff"},{"offset":0.3238,"color":"#fff"},{"offset":0.3238,"color":"#a0a0a0"},{"offset":0.3333,"color":"#a0a0a0"},{"offset":0.3333,"color":"#fff"},{"offset":0.3714,"color":"#fff"},{"offset":0.3714,"color":"#a0a0a0"},{"offset":0.381,"color":"#a0a0a0"},{"offset":0.381,"color":"#fff"},{"offset":0.419,"color":"#fff"},{"offset":0.419,"color":"#a0a0a0"},{"offset":0.4286,"color":"#a0a0a0"},{"offset":0.4286,"color":"#fff"},{"offset":0.4667,"color":"#fff"},{"offset":0.4667,"color":"#a0a0a0"},{"offset":0.4762,"color":"#a0a0a0"},{"offset":0.4762,"color":"#fff"},{"offset":0.5143,"color":"#fff"},{"offset":0.5143,"color":"#a0a0a0"},{"offset":0.5238,"color":"#a0a0a0"},{"offset":0.5238,"color":"#fff"},{"offset":0.5619,"color":"#fff"},{"offset":0.5619,"color":"#a0a0a0"},{"offset":0.5714,"color":"#a0a0a0"},{"offset":0.5714,"color":"#fff"},{"offset":0.6095,"color":"#fff"},{"offset":0.6095,"color":"#a0a0a0"},{"offset":0.619,"color":"#a0a0a0"},{"offset":0.619,"color":"#fff"},{"offset":0.6571,"color":"#fff"},{"offset":0.6571,"color":"#a0a0a0"},{"offset":0.6667,"color":"#a0a0a0"},{"offset":0.6667,"color":"#fff"},{"offset":0.7048,"color":"#fff"},{"offset":0.7048,"color":"#a0a0a0"},{"offset":0.7143,"color":"#a0a0a0"},{"offset":0.7143,"color":"#fff"},{"offset":0.7524,"color":"#fff"},{"offset":0.7524,"color":"#a0a0a0"},{"offset":0.7619,"color":"#a0a0a0"},{"offset":0.7619,"color":"#fff"},{"offset":0.8,"color":"#fff"},{"offset":0.8,"color":"#a0a0a0"},{"offset":0.8095,"color":"#a0a0a0"},{"offset":0.8095,"color":"#fff"},{"offset":0.8476,"color":"#fff"},{"offset":0.8476,"color":"#a0a0a0"},{"offset":0.8571,"color":"#a0a0a0"},{"offset":0.8571,"color":"#fff"},{"offset":0.8952,"color":"#fff"},{"offset":0.8952,"color":"#a0a0a0"},{"offset":0.9048,"color":"#a0a0a0"},{"offset":0.9048,"color":"#fff"},{"offset":0.9429,"color":"#fff"},{"offset":0.9429,"color":"#a0a0a0"},{"offset":0.9524,"color":"#a0a0a0"},{"offset":0.9524,"color":"#fff"},{"offset":0.9905,"color":"#fff"},{"offset":0.9905,"color":"#a0a0a0"},{"offset":1,"color":"#a0a0a0"}]}}},
{"data": {"name": "rr_b"}, "mark": {"type": "bar", "width": {"band": 1}, "filled": false, "stroke": "black", "strokeWidth": 7, "strokeJoin": "miter", "opacity": 1}},
{"data": {"name": "rr_b"}, "mark": {"type": "rule", "color": "#222", "strokeWidth": 1.3}, "encoding": {"y": {"field": "lo", "type": "quantitative"}, "y2": {"field": "hi"}}},
{"data": {"name": "rr_b"}, "mark": {"type": "tick", "color": "#222", "thickness": 1.3, "size": 28}, "encoding": {"y": {"field": "lo", "type": "quantitative"}}},
{"data": {"name": "rr_b"}, "mark": {"type": "tick", "color": "#222", "thickness": 1.3, "size": 28}, "encoding": {"y": {"field": "hi", "type": "quantitative"}}},
{"data": {"name": "rr_p"}, "mark": {"type": "circle", "size": 60, "color": "black", "opacity": 1}, "encoding": {"xOffset": {"field": "s", "type": "ordinal", "scale": {"domain": [-8,-7,-6,-5,-4,-3,-2,-1,0,1,2,3,4,5,6,7,8], "paddingInner": 0, "paddingOuter": 0}}}},
{"data": {"name": "rr_s"}, "mark": {"type": "text", "font": "DejaVu Sans", "fontWeight": "bold", "fontSize": 50, "baseline": "alphabetic", "color": "black"}, "encoding": {"text": {"field": "t"}}}
]
},
{
"width": 279, "height": 403,
"title": {"text": ["Длительность QRS", "\u00a0\u00a0\u00a0QRS duration"], "offset": 31, "dx": 10, "lineHeight": 42},
"resolve": {"scale": {"xOffset": "independent"}},
"encoding": {
"x": {"field": "g", "type": "nominal", "scale": {"domain": ["Контроль Control", "СД короткий DM short", "СД длительный DM long"], "paddingInner": 0.43, "paddingOuter": 0.40, "range": [21, 279]}, "axis": {"title": null}},
"y": {"field": "v", "type": "quantitative", "scale": {"domain": [0, 0.04], "nice": false, "range": [403, 15]}, "axis": {"title": "секунды seconds", "values": [0, 0.01, 0.02, 0.03, 0.04], "format": ".2f", "offset": -21}}
},
"layer": [
{"data": {"name": "qrs_b"}, "transform": [{"filter": {"field": "g", "equal": "СД короткий DM short"}}], "mark": {"type": "bar", "width": {"band": 1}, "fill": {"gradient":"linear","x1":0,"y1":0,"x2":1,"y2":0,"stops":[{"offset":0,"color":"#000"},{"offset":0.1429,"color":"#000"},{"offset":0.1429,"color":"#fff"},{"offset":0.2857,"color":"#fff"},{"offset":0.2857,"color":"#000"},{"offset":0.4286,"color":"#000"},{"offset":0.4286,"color":"#fff"},{"offset":0.5714,"color":"#fff"},{"offset":0.5714,"color":"#000"},{"offset":0.7143,"color":"#000"},{"offset":0.7143,"color":"#fff"},{"offset":0.8571,"color":"#fff"},{"offset":0.8571,"color":"#000"},{"offset":1,"color":"#000"}]}}},
{"data": {"name": "qrs_b"}, "transform": [{"filter": {"field": "g", "equal": "СД короткий DM short"}}], "mark": {"type": "bar", "width": {"band": 1}, "blend": "difference", "fill": {"gradient":"linear","x1":0,"y1":0,"x2":0,"y2":1,"stops":[{"offset":0,"color":"#000"},{"offset":0.025,"color":"#000"},{"offset":0.025,"color":"#fff"},{"offset":0.05,"color":"#fff"},{"offset":0.05,"color":"#000"},{"offset":0.075,"color":"#000"},{"offset":0.075,"color":"#fff"},{"offset":0.1,"color":"#fff"},{"offset":0.1,"color":"#000"},{"offset":0.125,"color":"#000"},{"offset":0.125,"color":"#fff"},{"offset":0.15,"color":"#fff"},{"offset":0.15,"color":"#000"},{"offset":0.175,"color":"#000"},{"offset":0.175,"color":"#fff"},{"offset":0.2,"color":"#fff"},{"offset":0.2,"color":"#000"},{"offset":0.225,"color":"#000"},{"offset":0.225,"color":"#fff"},{"offset":0.25,"color":"#fff"},{"offset":0.25,"color":"#000"},{"offset":0.275,"color":"#000"},{"offset":0.275,"color":"#fff"},{"offset":0.3,"color":"#fff"},{"offset":0.3,"color":"#000"},{"offset":0.325,"color":"#000"},{"offset":0.325,"color":"#fff"},{"offset":0.35,"color":"#fff"},{"offset":0.35,"color":"#000"},{"offset":0.375,"color":"#000"},{"offset":0.375,"color":"#fff"},{"offset":0.4,"color":"#fff"},{"offset":0.4,"color":"#000"},{"offset":0.425,"color":"#000"},{"offset":0.425,"color":"#fff"},{"offset":0.45,"color":"#fff"},{"offset":0.45,"color":"#000"},{"offset":0.475,"color":"#000"},{"offset":0.475,"color":"#fff"},{"offset":0.5,"color":"#fff"},{"offset":0.5,"color":"#000"},{"offset":0.525,"color":"#000"},{"offset":0.525,"color":"#fff"},{"offset":0.55,"color":"#fff"},{"offset":0.55,"color":"#000"},{"offset":0.575,"color":"#000"},{"offset":0.575,"color":"#fff"},{"offset":0.6,"color":"#fff"},{"offset":0.6,"color":"#000"},{"offset":0.625,"color":"#000"},{"offset":0.625,"color":"#fff"},{"offset":0.65,"color":"#fff"},{"offset":0.65,"color":"#000"},{"offset":0.675,"color":"#000"},{"offset":0.675,"color":"#fff"},{"offset":0.7,"color":"#fff"},{"offset":0.7,"color":"#000"},{"offset":0.725,"color":"#000"},{"offset":0.725,"color":"#fff"},{"offset":0.75,"color":"#fff"},{"offset":0.75,"color":"#000"},{"offset":0.775,"color":"#000"},{"offset":0.775,"color":"#fff"},{"offset":0.8,"color":"#fff"},{"offset":0.8,"color":"#000"},{"offset":0.825,"color":"#000"},{"offset":0.825,"color":"#fff"},{"offset":0.85,"color":"#fff"},{"offset":0.85,"color":"#000"},{"offset":0.875,"color":"#000"},{"offset":0.875,"color":"#fff"},{"offset":0.9,"color":"#fff"},{"offset":0.9,"color":"#000"},{"offset":0.925,"color":"#000"},{"offset":0.925,"color":"#fff"},{"offset":0.95,"color":"#fff"},{"offset":0.95,"color":"#000"},{"offset":0.975,"color":"#000"},{"offset":0.975,"color":"#fff"},{"offset":1,"color":"#fff"}]}}},
{"data": {"name": "qrs_b"}, "transform": [{"filter": {"field": "g", "equal": "СД короткий DM short"}}], "mark": {"type": "bar", "width": {"band": 1}, "fill": "#a3a3a3", "blend": "lighten"}},
{"data": {"name": "qrs_b"}, "transform": [{"filter": {"field": "g", "equal": "СД длительный DM long"}}], "mark": {"type": "bar", "width": {"band": 1}, "fill": {"gradient":"linear","x1":0,"y1":0,"x2":0,"y2":1,"stops":[{"offset":0,"color":"#fff"},{"offset":0.0381,"color":"#fff"},{"offset":0.0381,"color":"#a0a0a0"},{"offset":0.0476,"color":"#a0a0a0"},{"offset":0.0476,"color":"#fff"},{"offset":0.0857,"color":"#fff"},{"offset":0.0857,"color":"#a0a0a0"},{"offset":0.0952,"color":"#a0a0a0"},{"offset":0.0952,"color":"#fff"},{"offset":0.1333,"color":"#fff"},{"offset":0.1333,"color":"#a0a0a0"},{"offset":0.1429,"color":"#a0a0a0"},{"offset":0.1429,"color":"#fff"},{"offset":0.181,"color":"#fff"},{"offset":0.181,"color":"#a0a0a0"},{"offset":0.1905,"color":"#a0a0a0"},{"offset":0.1905,"color":"#fff"},{"offset":0.2286,"color":"#fff"},{"offset":0.2286,"color":"#a0a0a0"},{"offset":0.2381,"color":"#a0a0a0"},{"offset":0.2381,"color":"#fff"},{"offset":0.2762,"color":"#fff"},{"offset":0.2762,"color":"#a0a0a0"},{"offset":0.2857,"color":"#a0a0a0"},{"offset":0.2857,"color":"#fff"},{"offset":0.3238,"color":"#fff"},{"offset":0.3238,"color":"#a0a0a0"},{"offset":0.3333,"color":"#a0a0a0"},{"offset":0.3333,"color":"#fff"},{"offset":0.3714,"color":"#fff"},{"offset":0.3714,"color":"#a0a0a0"},{"offset":0.381,"color":"#a0a0a0"},{"offset":0.381,"color":"#fff"},{"offset":0.419,"color":"#fff"},{"offset":0.419,"color":"#a0a0a0"},{"offset":0.4286,"color":"#a0a0a0"},{"offset":0.4286,"color":"#fff"},{"offset":0.4667,"color":"#fff"},{"offset":0.4667,"color":"#a0a0a0"},{"offset":0.4762,"color":"#a0a0a0"},{"offset":0.4762,"color":"#fff"},{"offset":0.5143,"color":"#fff"},{"offset":0.5143,"color":"#a0a0a0"},{"offset":0.5238,"color":"#a0a0a0"},{"offset":0.5238,"color":"#fff"},{"offset":0.5619,"color":"#fff"},{"offset":0.5619,"color":"#a0a0a0"},{"offset":0.5714,"color":"#a0a0a0"},{"offset":0.5714,"color":"#fff"},{"offset":0.6095,"color":"#fff"},{"offset":0.6095,"color":"#a0a0a0"},{"offset":0.619,"color":"#a0a0a0"},{"offset":0.619,"color":"#fff"},{"offset":0.6571,"color":"#fff"},{"offset":0.6571,"color":"#a0a0a0"},{"offset":0.6667,"color":"#a0a0a0"},{"offset":0.6667,"color":"#fff"},{"offset":0.7048,"color":"#fff"},{"offset":0.7048,"color":"#a0a0a0"},{"offset":0.7143,"color":"#a0a0a0"},{"offset":0.7143,"color":"#fff"},{"offset":0.7524,"color":"#fff"},{"offset":0.7524,"color":"#a0a0a0"},{"offset":0.7619,"color":"#a0a0a0"},{"offset":0.7619,"color":"#fff"},{"offset":0.8,"color":"#fff"},{"offset":0.8,"color":"#a0a0a0"},{"offset":0.8095,"color":"#a0a0a0"},{"offset":0.8095,"color":"#fff"},{"offset":0.8476,"color":"#fff"},{"offset":0.8476,"color":"#a0a0a0"},{"offset":0.8571,"color":"#a0a0a0"},{"offset":0.8571,"color":"#fff"},{"offset":0.8952,"color":"#fff"},{"offset":0.8952,"color":"#a0a0a0"},{"offset":0.9048,"color":"#a0a0a0"},{"offset":0.9048,"color":"#fff"},{"offset":0.9429,"color":"#fff"},{"offset":0.9429,"color":"#a0a0a0"},{"offset":0.9524,"color":"#a0a0a0"},{"offset":0.9524,"color":"#fff"},{"offset":0.9905,"color":"#fff"},{"offset":0.9905,"color":"#a0a0a0"},{"offset":1,"color":"#a0a0a0"}]}}},
{"data": {"name": "qrs_b"}, "mark": {"type": "bar", "width": {"band": 1}, "filled": false, "stroke": "black", "strokeWidth": 7, "strokeJoin": "miter", "opacity": 1}},
{"data": {"name": "qrs_b"}, "mark": {"type": "rule", "color": "#222", "strokeWidth": 1.3}, "encoding": {"y": {"field": "lo", "type": "quantitative"}, "y2": {"field": "hi"}}},
{"data": {"name": "qrs_b"}, "mark": {"type": "tick", "color": "#222", "thickness": 1.3, "size": 28}, "encoding": {"y": {"field": "lo", "type": "quantitative"}}},
{"data": {"name": "qrs_b"}, "mark": {"type": "tick", "color": "#222", "thickness": 1.3, "size": 28}, "encoding": {"y": {"field": "hi", "type": "quantitative"}}},
{"data": {"name": "qrs_p"}, "mark": {"type": "circle", "size": 60, "color": "black", "opacity": 1}, "encoding": {"xOffset": {"field": "s", "type": "ordinal", "scale": {"domain": [-8,-7,-6,-5,-4,-3,-2,-1,0,1,2,3,4,5,6,7,8], "paddingInner": 0, "paddingOuter": 0}}}}
]
}
]
}
